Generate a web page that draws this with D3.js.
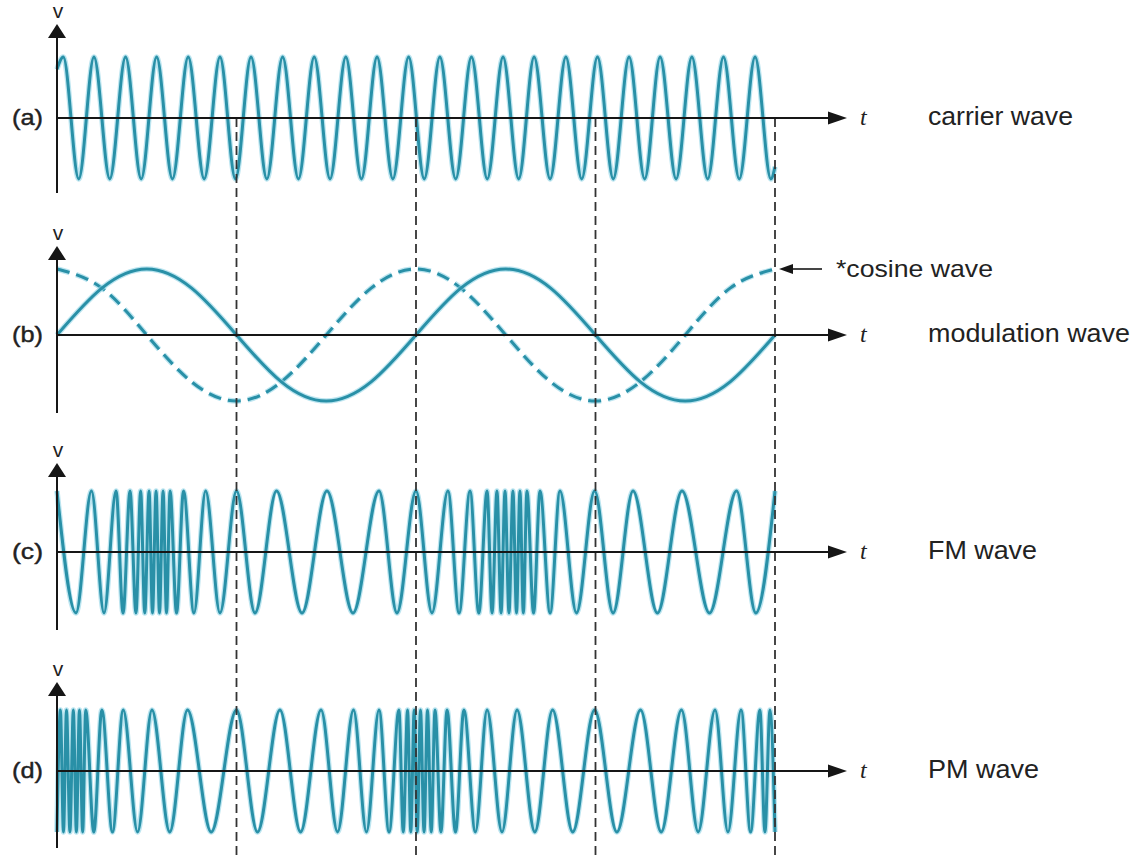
<!DOCTYPE html>
<html><head><meta charset="utf-8">
<script src="https://cdn.jsdelivr.net/npm/d3@7"></script>
<style>html,body{margin:0;padding:0;background:#fff;} svg{display:block;}</style>
</head><body><svg id="chart" width="1148" height="857"></svg>
<script>
// ---------- data (time t in quarter-periods of the modulating wave) ----------
const panelLetters = ["(a)", "(b)", "(c)", "(d)"];
const waveNames = ["carrier wave", "modulation wave", "FM wave", "PM wave"];
const cosineNote = "*cosine wave";
const markerTimes = [1, 2, 3, 4];

// carrier wave: times of crests / troughs
const carrierCrests = [0.035,0.206,0.382,0.555,0.731,0.908,1.081,1.257,1.433,1.609,1.783,1.959,2.133,2.309,2.485,2.658,2.835,3.011,3.187,3.360,3.537,3.713,3.889];
const carrierTroughs = [0.121,0.294,0.469,0.643,0.820,0.994,1.169,1.345,1.521,1.696,1.871,2.046,2.221,2.397,2.572,2.747,2.923,3.099,3.274,3.449,3.625,3.801,3.977];
const carrierStartEnd = [0.8, -0.8];

// modulation wave samples
const modTimes = [0,0.25,0.5,0.75,1,1.25,1.5,1.75,2,2.25,2.5,2.75,3,3.25,3.5,3.75,4];
const sineValues = [0,0.71,1,0.71,0,-0.71,-1,-0.71,0,0.71,1,0.71,0,-0.71,-1,-0.71,0];
const cosineValues = [1,0.71,0,-0.71,-1,-0.71,0,0.71,1,0.71,0,-0.71,-1,-0.71,0,0.71,1];

// FM wave crests / troughs
const fmCrests = [0,0.192,0.329,0.407,0.466,0.513,0.552,0.591,0.630,0.705,0.828,1.0,1.223,1.504,1.794,2.0,2.178,2.301,2.396,2.451,2.496,2.540,2.579,2.618,2.691,2.802,2.995,3.209,3.482,3.786,4.0];
const fmTroughs = [0.106,0.262,0.368,0.440,0.489,0.532,0.571,0.610,0.666,0.763,0.908,1.103,1.365,1.649,1.894,2.089,2.240,2.350,2.424,2.474,2.518,2.560,2.598,2.655,2.747,2.894,3.098,3.345,3.635,3.893];

// PM wave crests / troughs
const pmCrests = [0.019,0.053,0.091,0.125,0.160,0.250,0.369,0.529,0.727,1.0,1.242,1.471,1.652,1.794,1.905,1.953,1.990,2.025,2.064,2.106,2.173,2.267,2.396,2.563,2.761,2.995,3.251,3.479,3.666,3.811,3.916,3.972];
const pmTroughs = [0,0.036,0.072,0.108,0.143,0.205,0.309,0.449,0.628,0.859,1.117,1.357,1.563,1.724,1.850,1.929,1.971,2.007,2.045,2.085,2.139,2.220,2.331,2.479,2.662,2.873,3.119,3.366,3.572,3.738,3.864,3.944,4.0];

// ---------- layout ----------
const layout = [
  {axisY:118, amp:61, top:24,  bottom:193},
  {axisY:335, amp:66, top:246, bottom:413},
  {axisY:552, amp:61, top:463, bottom:630},
  {axisY:771, amp:61, top:682, bottom:848}
];
const nameWidths = [145, 202, 109, 111];
const WAVE = "#2990a7", HALO = "#8fd4e6", AXIS = "#161616";

const svg = d3.select("#chart");
const x = d3.scaleLinear().domain([0, 4]).range([57, 775]);
const axisEnd = 847;

function yScale(p){ return d3.scaleLinear().domain([-1, 1]).range([p.axisY + p.amp, p.axisY - p.amp]); }
function osc(crests, troughs, extra){
  const pts = crests.map(t => [t, 1]).concat(troughs.map(t => [t, -1])).concat(extra || []);
  pts.sort((a, b) => a[0] - b[0]);
  return pts;
}

const gWaves = svg.append("g");
const gDash = svg.append("g");
const gAxes = svg.append("g");

function drawWave(pts, p, curve, dashed){
  const y = yScale(p);
  const line = d3.line().x(d => x(d[0])).y(d => y(d[1])).curve(curve);
  const d = line(pts);
  gWaves.append("path").attr("d", d).attr("fill", "none").attr("stroke", HALO)
    .attr("stroke-width", 5.5).attr("stroke-opacity", 0.6)
    .attr("stroke-dasharray", dashed ? "13,7" : null).attr("stroke-linejoin","round");
  gWaves.append("path").attr("d", d).attr("fill", "none").attr("stroke", WAVE)
    .attr("stroke-width", 3).attr("stroke-dasharray", dashed ? "13,7" : null)
    .attr("stroke-linejoin","round");
}

// (a) carrier
drawWave(osc(carrierCrests, carrierTroughs, [[0, carrierStartEnd[0]], [4, carrierStartEnd[1]]]), layout[0], d3.curveMonotoneX, false);
// (b) modulation
drawWave(modTimes.map((t, i) => [t, cosineValues[i]]), layout[1], d3.curveNatural, true);
drawWave(modTimes.map((t, i) => [t, sineValues[i]]), layout[1], d3.curveNatural, false);
// (c) FM
drawWave(osc(fmCrests, fmTroughs), layout[2], d3.curveMonotoneX, false);
// (d) PM
drawWave(osc(pmCrests, pmTroughs), layout[3], d3.curveMonotoneX, false);

// dashed markers
gDash.selectAll("line").data(markerTimes).join("line")
  .attr("x1", d => x(d)).attr("x2", d => x(d))
  .attr("y1", layout[0].axisY).attr("y2", 857)
  .attr("stroke", "#333").attr("stroke-width", 1.8).attr("stroke-dasharray", "9,5");

// axes & labels
layout.forEach((p, i) => {
  const x0 = x(0);
  gAxes.append("line").attr("x1", x0).attr("x2", axisEnd - 16).attr("y1", p.axisY).attr("y2", p.axisY)
    .attr("stroke", AXIS).attr("stroke-width", 2);
  gAxes.append("path").attr("d", `M${axisEnd},${p.axisY} L${axisEnd-19},${p.axisY-6.5} L${axisEnd-19},${p.axisY+6.5} Z`).attr("fill", AXIS);
  gAxes.append("line").attr("x1", x0).attr("x2", x0).attr("y1", p.bottom).attr("y2", p.top + 10)
    .attr("stroke", AXIS).attr("stroke-width", 2);
  gAxes.append("path").attr("d", `M${x0},${p.top} L${x0-9},${p.top+14} L${x0+9},${p.top+14} Z`).attr("fill", AXIS);
  gAxes.append("text").attr("x", x0 + 1).attr("y", p.top - 6).attr("text-anchor", "middle")
    .attr("font-family", "Liberation Sans, Arial, sans-serif").attr("font-size", 21).attr("fill", "#222").text("v");
  gAxes.append("text").attr("x", 12).attr("y", p.axisY + 7)
    .attr("font-family", "Liberation Sans, Arial, sans-serif").attr("font-size", 22).attr("fill", "#222")
    .attr("stroke", "#222").attr("stroke-width", 0.4)
    .attr("textLength", 31).attr("lengthAdjust", "spacingAndGlyphs").text(panelLetters[i]);
  gAxes.append("text").attr("x", 860).attr("y", p.axisY + 7)
    .attr("font-family", "Liberation Serif, Times New Roman, serif").attr("font-style", "italic")
    .attr("font-size", 24).attr("fill", "#222").text("t");
  gAxes.append("text").attr("x", 928).attr("y", p.axisY + 7)
    .attr("font-family", "Liberation Sans, Arial, sans-serif").attr("font-size", 25).attr("fill", "#222")
    .attr("textLength", nameWidths[i]).attr("lengthAdjust", "spacingAndGlyphs").text(waveNames[i]);
});

// cosine note with arrow
const cy = yScale(layout[1])(1);
gAxes.append("line").attr("x1", 822).attr("x2", 790).attr("y1", cy).attr("y2", cy).attr("stroke", AXIS).attr("stroke-width", 1.6);
gAxes.append("path").attr("d", `M${x(4)+4},${cy} L${x(4)+18},${cy-5} L${x(4)+18},${cy+5} Z`).attr("fill", AXIS);
gAxes.append("text").attr("x", 836).attr("y", cy + 8)
  .attr("font-family", "Liberation Sans, Arial, sans-serif").attr("font-size", 24).attr("fill", "#222")
  .attr("textLength", 157).attr("lengthAdjust", "spacingAndGlyphs").text(cosineNote);
</script></body></html>
